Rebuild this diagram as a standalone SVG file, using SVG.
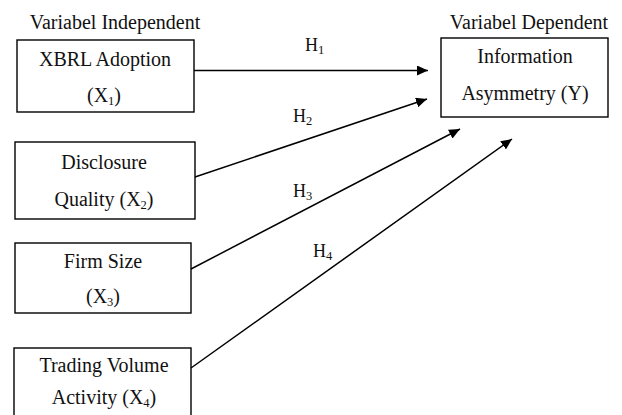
<svg xmlns="http://www.w3.org/2000/svg" width="622" height="415" viewBox="0 0 622 415">
<style>
.box{fill:#fff;stroke:#000;stroke-width:1.4}
.t{font-family:"Liberation Serif","Times New Roman",serif;font-size:20px;fill:#111;text-anchor:middle}
.h{font-family:"Liberation Serif","Times New Roman",serif;font-size:18px;fill:#111}
.sub{font-size:12.5px}
.c{stroke:#000;stroke-width:1.5;fill:none;marker-end:url(#ah)}
</style>
<defs>
<marker id="ah" markerUnits="userSpaceOnUse" markerWidth="12" markerHeight="10" refX="11" refY="5" orient="auto">
<path d="M0,0 L11,5 L0,10 z" fill="#000"/>
</marker>
</defs>
<text class="t" x="115" y="29">Variabel Independent</text>
<text class="t" x="529" y="29">Variabel Dependent</text>
<g id="x1">
<rect class="box" x="17" y="40" width="177" height="72"/>
<text class="t" x="105" y="66">XBRL Adoption</text>
<text class="t" x="104" y="102">(X<tspan class="sub" dy="3">1</tspan><tspan dy="-3">)</tspan></text>
</g>
<g id="x2">
<rect class="box" x="15" y="142" width="180" height="77"/>
<text class="t" x="104" y="169">Disclosure</text>
<text class="t" x="104" y="206">Quality (X<tspan class="sub" dy="3">2</tspan><tspan dy="-3">)</tspan></text>
</g>
<g id="x3">
<rect class="box" x="15" y="243" width="176" height="70"/>
<text class="t" x="103" y="268">Firm Size</text>
<text class="t" x="103" y="303">(X<tspan class="sub" dy="3">3</tspan><tspan dy="-3">)</tspan></text>
</g>
<g id="x4">
<rect class="box" x="14" y="348" width="177" height="80"/>
<text class="t" x="104" y="372">Trading Volume</text>
<text class="t" x="104" y="404">Activity (X<tspan class="sub" dy="3">4</tspan><tspan dy="-3">)</tspan></text>
</g>
<g id="y">
<rect class="box" x="441" y="38" width="167" height="79"/>
<text class="t" x="525" y="63">Information</text>
<text class="t" x="525" y="100">Asymmetry (Y)</text>
</g>
<g id="connectors">
<line class="c" x1="194" y1="70.5" x2="428" y2="70.5"/>
<line class="c" x1="195" y1="177" x2="427" y2="99"/>
<line class="c" x1="191" y1="269" x2="460" y2="129"/>
<line class="c" x1="191" y1="368" x2="512" y2="139"/>
<text class="h" x="305" y="51">H<tspan class="sub" dy="3">1</tspan></text>
<text class="h" x="293" y="122">H<tspan class="sub" dy="3">2</tspan></text>
<text class="h" x="293" y="197">H<tspan class="sub" dy="3">3</tspan></text>
<text class="h" x="313" y="257">H<tspan class="sub" dy="3">4</tspan></text>
</g>
</svg>
